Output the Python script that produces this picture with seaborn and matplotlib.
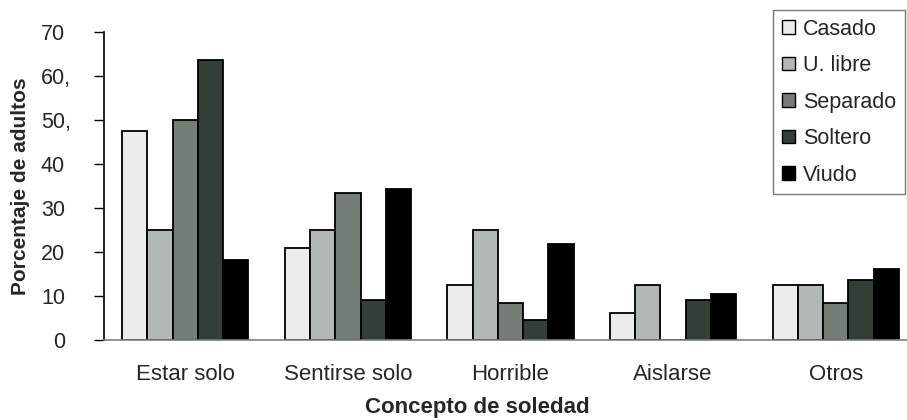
import matplotlib
matplotlib.use("Agg")
import matplotlib.pyplot as plt
import matplotlib.transforms as mtransforms
import seaborn as sns
import pandas as pd

categorias = ["Estar solo", "Sentirse solo", "Horrible", "Aislarse", "Otros"]
estados = ["Casado", "U. libre", "Separado", "Soltero", "Viudo"]
casado = [47.6, 20.8, 12.5, 6.25, 12.5]
u_libre = [25.0, 25.0, 25.0, 12.5, 12.5]
separado = [50.0, 33.3, 8.3, 0.0, 8.3]
soltero = [63.6, 9.1, 4.5, 9.1, 13.6]
viudo = [18.2, 34.4, 21.9, 10.5, 16.2]
colores = ["#EBECEB", "#B2B8B5", "#757E76", "#333E36", "#000000"]
y_ticks = [0, 10, 20, 30, 40, 50, 60, 70]
y_labels = ["0", "10", "20", "30", "40", "50,", "60,", "70"]

series = [casado, u_libre, separado, soltero, viudo]
rows = []
for est, vals in zip(estados, series):
    for cat, v in zip(categorias, vals):
        rows.append({"concepto": cat, "estado": est, "valor": v})
df = pd.DataFrame(rows)

sns.set_style("white")
plt.rcParams["font.family"] = ["Liberation Sans", "DejaVu Sans"]

fig = plt.figure(figsize=(9.07, 4.2), dpi=100)
ax = fig.add_axes([104 / 907, 80 / 420, 813 / 907, 308 / 420])

sns.barplot(data=df, x="concepto", y="valor", hue="estado",
            order=categorias, hue_order=estados, palette=colores,
            saturation=1, edgecolor="black", linewidth=1.3,
            width=0.775, errorbar=None, ax=ax)

ax.set_ylim(0, 70)
ax.set_xlim(-0.5, 4.5)
ax.set_yticks(y_ticks)
ax.set_yticklabels(y_labels, fontsize=15.5)
ax.set_xticks(range(len(categorias)))
ax.set_xticklabels(categorias, fontsize=16)
ax.tick_params(axis="x", which="major", length=0, pad=17)
ax.set_xticks([i - 0.5 for i in range(len(categorias) + 1)], minor=True)
ax.tick_params(axis="x", which="minor", length=7, width=1, color="black", direction="out")
ax.tick_params(axis="y", length=7, width=1, color="black", direction="out", left=True, pad=21)

# labels with trailing comma: keep digits aligned with the others
for lab in ax.get_yticklabels():
    if lab.get_text().endswith(","):
        off = mtransforms.ScaledTranslation(6 / 100, 0, fig.dpi_scale_trans)
        lab.set_transform(lab.get_transform() + off)

for s in ["top", "right"]:
    ax.spines[s].set_visible(False)
ax.spines["left"].set_color("black")
ax.spines["left"].set_linewidth(1.2)
ax.spines["bottom"].set_color("#808080")
ax.spines["bottom"].set_linewidth(1.2)

ax.set_xlabel("Concepto de soledad", fontsize=16, fontweight="bold")
ax.xaxis.set_label_coords((477 - 104) / 813, (340 - 397) / 308)
ax.set_ylabel("Porcentaje de adultos", fontsize=15, fontweight="bold", labelpad=8)

leg = ax.legend(loc="upper left", bbox_to_anchor=(0.823, 1.071), fontsize=15.5,
                frameon=True, fancybox=False, edgecolor="#555555",
                handlelength=0.6, handleheight=0.6, handletextpad=0.38,
                labelspacing=0.72, borderpad=0.4, borderaxespad=0)
leg.get_frame().set_linewidth(1.0)
for h in leg.legend_handles:
    h.set_edgecolor("black")
    h.set_linewidth(1.0)

fig.savefig("out.png", dpi=100)
